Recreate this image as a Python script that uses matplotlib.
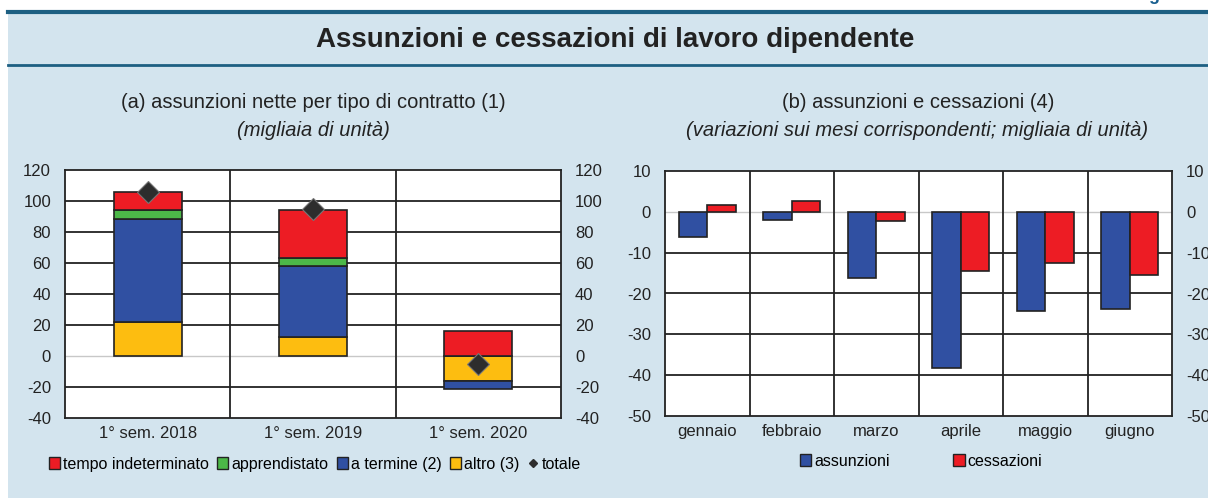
import numpy as np
import matplotlib
matplotlib.use("Agg")
from matplotlib import pyplot as plt
from matplotlib.patches import Patch, Rectangle
from matplotlib.lines import Line2D

plt.rcParams['font.family'] = ['Liberation Sans', 'DejaVu Sans']
plt.rcParams['axes.unicode_minus'] = False

# ===== Dati =====

# (a) assunzioni nette per tipo di contratto (migliaia)
semestri = ['1° sem. 2018', '1° sem. 2019', '1° sem. 2020']
altro = [22, 12, -16]
a_termine = [66.5, 46, -5.5]
apprendistato = [6, 5, 0]
tempo_indet = [11, 31, 16]
totale = [106, 95, -5]

# (b) assunzioni e cessazioni, variazioni sui mesi corrispondenti (migliaia)
mesi = ['gennaio', 'febbraio', 'marzo', 'aprile', 'maggio', 'giugno']
assunzioni = [-6.2, -1.9, -16.3, -38.3, -24.2, -23.7]
cessazioni = [1.7, 2.6, -2.3, -14.4, -12.5, -15.4]

# ===== Colori =====
BG = '#d3e4ee'
ROSSO = '#ed1c24'
VERDE = '#4cb848'
BLU = '#3050a2'
GIALLO = '#fdbd10'
BORDO = '#222222'
LINEA = '#1d5f82'

W, H = 1208, 498
fig = plt.figure(figsize=(W / 100, H / 100), dpi=100, facecolor='white')

# sfondo azzurro e linee del riquadro
fig.patches.append(Rectangle((8 / W, 0), 1, 1 - 12 / H, transform=fig.transFigure,
                             facecolor=BG, edgecolor='none', zorder=-5))
fig.add_artist(Line2D([8 / W, 1], [1 - 12.5 / H] * 2, transform=fig.transFigure,
                      color=LINEA, lw=3))
fig.add_artist(Line2D([8 / W, 1], [1 - 65.5 / H] * 2, transform=fig.transFigure,
                      color=LINEA, lw=2))

fig.text(1208 / W, 1 + 4 / H, 'Figura 6.', ha='right', va='center', fontsize=13,
         fontweight='bold', color='#1a6090')
fig.text(615 / W, 1 - 40 / H, 'Assunzioni e cessazioni di lavoro dipendente',
         ha='center', va='center', fontsize=20, fontweight='bold', color='#222222')

# titoli dei pannelli
fig.text(313 / W, 1 - 102 / H, '(a) assunzioni nette per tipo di contratto (1)',
         ha='center', va='center', fontsize=14.5, color='#222222')
fig.text(313 / W, 1 - 131 / H, '(migliaia di unità)', ha='center', va='center',
         fontsize=14.5, style='italic', color='#222222')
fig.text(918 / W, 1 - 102 / H, '(b) assunzioni e cessazioni (4)',
         ha='center', va='center', fontsize=14.5, color='#222222')
fig.text(917 / W, 1 - 131 / H, '(variazioni sui mesi corrispondenti; migliaia di unità)',
         ha='center', va='center', fontsize=14.5, style='italic', color='#222222')


def stile_assi(ax, ticks, linee_x):
    ax.set_facecolor('white')
    for s in ax.spines.values():
        s.set_color(BORDO)
        s.set_linewidth(1.3)
    ax.set_yticks(ticks)
    ax.tick_params(axis='both', length=0, labelsize=12, colors='#222222')
    ax.tick_params(axis='y', labelleft=True, labelright=True, pad=10)
    for t in ticks[1:-1]:
        ax.axhline(t, color='#c8c8c8' if t == 0 else BORDO,
                   lw=1.3 if t != 0 else 1.0, zorder=0.5)
    for xv in linee_x:
        ax.axvline(xv, color=BORDO, lw=1.3, zorder=0.5)


# ===== Pannello (a) =====
ax1 = fig.add_axes([65 / W, 1 - 418 / H, 496 / W, 248 / H])
x1 = np.arange(len(semestri))
pos = np.zeros(len(semestri))
neg = np.zeros(len(semestri))
serie_a = [(altro, GIALLO), (a_termine, BLU), (apprendistato, VERDE), (tempo_indet, ROSSO)]
for valori, colore in serie_a:
    v = np.array(valori, dtype=float)
    base = np.where(v >= 0, pos, neg)
    ax1.bar(x1, v, 0.41, bottom=base, color=colore, edgecolor=BORDO, lw=1.2, zorder=2)
    pos = pos + np.where(v >= 0, v, 0)
    neg = neg + np.where(v < 0, v, 0)
ax1.plot(x1, totale, 'D', color='#2d2d2d', markersize=11, markeredgecolor='#777777',
         markeredgewidth=0.8, zorder=3)
ax1.set_xlim(-0.5, 2.5)
ax1.set_ylim(-40, 120)
ax1.set_xticks(x1)
ax1.set_xticklabels(semestri)
stile_assi(ax1, np.arange(-40, 121, 20), [0.5, 1.5])
ax1.tick_params(axis='x', pad=6)

# ===== Pannello (b) =====
ax2 = fig.add_axes([665 / W, 1 - 416 / H, 507 / W, 245 / H])
x2 = np.arange(len(mesi))
ax2.bar(x2 - 0.17, assunzioni, 0.34, color=BLU, edgecolor=BORDO, lw=1.2, zorder=2)
ax2.bar(x2 + 0.17, cessazioni, 0.34, color=ROSSO, edgecolor=BORDO, lw=1.2, zorder=2)
ax2.set_xlim(-0.5, 5.5)
ax2.set_ylim(-50, 10)
ax2.set_xticks(x2)
ax2.set_xticklabels(mesi)
stile_assi(ax2, np.arange(-50, 11, 10), x2[:-1] + 0.5)
ax2.tick_params(axis='x', pad=6)

# ===== Legende =====
quad = dict(edgecolor=BORDO, linewidth=1.0)
handles_a = [Patch(facecolor=ROSSO, **quad), Patch(facecolor=VERDE, **quad),
             Patch(facecolor=BLU, **quad), Patch(facecolor=GIALLO, **quad),
             Line2D([], [], marker='D', color='#2d2d2d', lw=0, markersize=4)]
labels_a = ['tempo indeterminato', 'apprendistato', 'a termine (2)', 'altro (3)', 'totale']
fig.legend(handles_a, labels_a, loc='center', bbox_to_anchor=(315 / W, 1 - 464 / H),
           ncol=5, frameon=False, fontsize=11.5, handlelength=0.7, handleheight=0.7,
           handletextpad=0.2, columnspacing=0.5, borderpad=0)

handles_b = [Patch(facecolor=BLU, **quad), Patch(facecolor=ROSSO, **quad)]
fig.legend(handles_b, ['assunzioni', 'cessazioni'], loc='center',
           bbox_to_anchor=(921 / W, 1 - 461 / H), ncol=2, frameon=False, fontsize=11.5,
           handlelength=0.7, handleheight=0.7, handletextpad=0.2, columnspacing=4.0,
           borderpad=0)

plt.savefig('out.png', dpi=100, facecolor='white')
